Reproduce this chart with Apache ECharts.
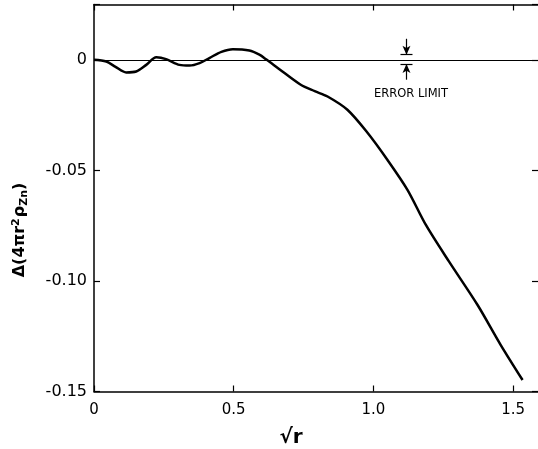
<!DOCTYPE html>
<html>
<head>
<meta charset="utf-8">
<script src="https://cdn.jsdelivr.net/npm/echarts@6/dist/echarts.min.js"></script>
<style>html,body{margin:0;padding:0;background:#fff;}#c{width:538px;height:449px;}</style>
</head>
<body>
<div id="c"></div>
<script>
// ---- data ----
const sqrtR = [0, 0.044, 0.077, 0.115, 0.151, 0.187, 0.223, 0.258, 0.306, 0.342, 0.378, 0.413, 0.456, 0.497, 0.556, 0.592, 0.616, 0.66, 0.74, 0.79, 0.836, 0.907, 0.979, 1.050, 1.122, 1.188, 1.271, 1.373, 1.456, 1.534];
const delta = [0, -0.0008, -0.0032, -0.0057, -0.0053, -0.0023, 0.0011, 0.0003, -0.0023, -0.0026, -0.0015, 0.0008, 0.0036, 0.0048, 0.0042, 0.0023, 0.0002, -0.0039, -0.0113, -0.0142, -0.0166, -0.0226, -0.033, -0.0452, -0.0588, -0.0747, -0.0913, -0.1109, -0.129, -0.1448];
const xTickValues = [0, 0.5, 1.0, 1.5];
const xTickLabels = ['0', '0.5', '1.0', '1.5'];
const yTickValues = [0, -0.05, -0.10, -0.15];
const yTickLabels = ['0', '-0.05', '-0.10', '-0.15'];
// error-limit annotation (data units)
const errX = 1.1185, errHalf = 0.0215;
const errUpperBar = 0.0023, errUpperTail = 0.0095;
const errLowerBar = -0.0019, errLowerTail = -0.0090;

const points = sqrtR.map((x, i) => [x, delta[i]]);
function lab(vals, labels) {
  return v => { for (let i = 0; i < vals.length; i++) if (Math.abs(v - vals[i]) < 1e-6) return labels[i]; return ''; };
}
const FONT = 'DejaVu Sans';
const chart = echarts.init(document.getElementById('c'), null, {renderer: 'canvas'});
const axisCommon = {
  axisLine: {show: true, onZero: false, lineStyle: {color: '#000', width: 1.5}},
  axisTick: {show: true, inside: true, length: 6, lineStyle: {color: '#000', width: 1.2}},
  splitLine: {show: false}
};
chart.setOption({
  animation: false,
  backgroundColor: '#fff',
  grid: {left: 94, top: 4.5, width: 447, height: 387, containLabel: false, outerBoundsMode: 'none'},
  xAxis: [
    Object.assign({type: 'value', position: 'bottom', min: 0, max: 1.6, interval: 0.5,
      axisLabel: {formatter: lab(xTickValues, xTickLabels), color: '#000', fontFamily: FONT, fontSize: 15, margin: 11}}, axisCommon),
    Object.assign({type: 'value', position: 'top', min: 0, max: 1.6, interval: 0.5,
      axisLabel: {show: false}}, axisCommon)
  ],
  yAxis: [
    Object.assign({type: 'value', min: -0.15, max: 0.025, interval: 0.05,
      axisLabel: {formatter: lab(yTickValues, yTickLabels), color: '#000', fontFamily: FONT, fontSize: 16, margin: 7}}, axisCommon),
    Object.assign({}, axisCommon, {type: 'value', position: 'right', min: -0.15, max: 0.025, interval: 0.05,
      axisLabel: {show: false},
      axisTick: {show: true, inside: true, length: 9, lineStyle: {color: '#000', width: 1.2}}})
  ],
  series: [{
    type: 'line',
    data: points,
    smooth: 0.3,
    symbol: 'none',
    lineStyle: {color: '#000', width: 2.5},
    markLine: {
      silent: true,
      symbol: ['none', 'none'],
      label: {show: false},
      lineStyle: {color: '#000', width: 1.2, type: 'solid'},
      data: [
        [{coord: [0, 0]}, {coord: [1.6, 0]}],
        [{coord: [errX - errHalf, errUpperBar]}, {coord: [errX + errHalf, errUpperBar]}],
        [{coord: [errX - errHalf, errLowerBar]}, {coord: [errX + errHalf, errLowerBar]}],
        [{coord: [errX, errUpperTail], symbol: 'none'}, {coord: [errX, errUpperBar], symbol: 'arrow', symbolSize: [6, 9]}],
        [{coord: [errX, errLowerTail], symbol: 'none'}, {coord: [errX, errLowerBar], symbol: 'arrow', symbolSize: [6, 9]}]
      ]
    }
  }],
  graphic: [
    {type: 'text', x: 411, y: 94, style: {text: 'ERROR LIMIT', font: '11.5px "' + FONT + '"', fill: '#000', align: 'center', verticalAlign: 'middle'}},
    {type: 'text', x: 20, y: 230, rotation: Math.PI / 2,
      style: {text: '{a|Δ(4πr}{sup|2}{a|ρ}{sub|Zn}{a|)}', align: 'center', verticalAlign: 'middle', fill: '#000',
        rich: {
          a: {fontFamily: FONT, fontSize: 16, fontWeight: 'bold', fill: '#000'},
          sup: {fontFamily: FONT, fontSize: 11, fontWeight: 'bold', verticalAlign: 'top', padding: [0, 1, 8, 0]},
          sub: {fontFamily: FONT, fontSize: 11, fontWeight: 'bold', verticalAlign: 'bottom', padding: [8, 0, 0, 0]}
        }}},
    {type: 'text', x: 291, y: 438, style: {text: '√r', font: 'bold 20px "' + FONT + '"', fill: '#000', align: 'center', verticalAlign: 'middle'}}
  ]
});
</script>
</body>
</html>
